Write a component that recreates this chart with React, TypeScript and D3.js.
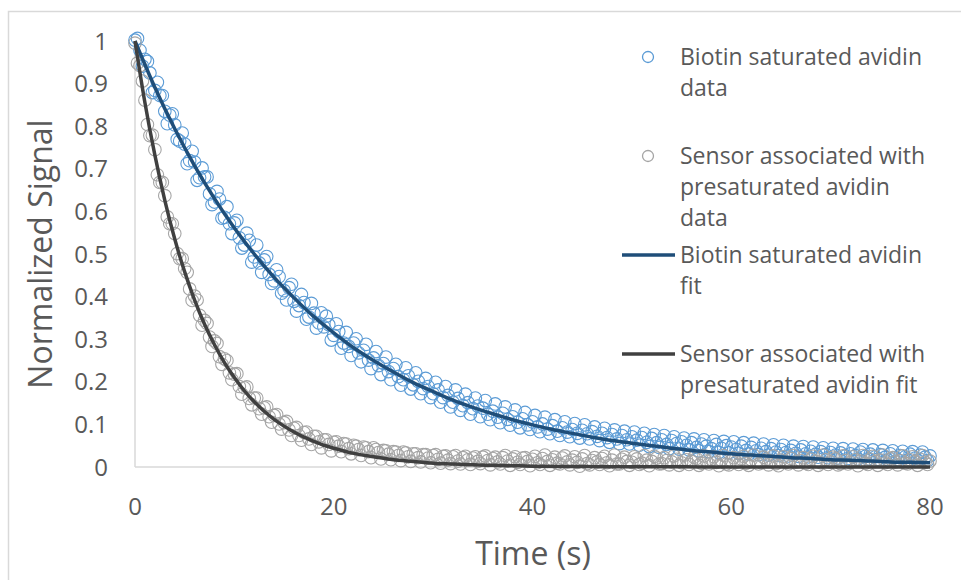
import React from "react";
import * as d3 from "d3";

// Scatter data: set A sampled at t = 0, 0.5, 1 ... 80 s ; set B at t = 0.25, 0.75 ... 79.75 s
const stepA = 0.5;
const startA = 0;
const stepB = 0.5;
const startB = 0.25;

const biotinDataA = [
  1.002, 0.978, 0.957, 0.925, 0.884, 0.872, 0.835, 0.826, 0.803, 0.765,
  0.758, 0.719, 0.716, 0.679, 0.681, 0.641, 0.622, 0.629, 0.586, 0.571,
  0.573, 0.538, 0.521, 0.532, 0.493, 0.479, 0.486, 0.452, 0.437, 0.447,
  0.414, 0.421, 0.389, 0.379, 0.386, 0.352, 0.361, 0.338, 0.329, 0.334,
  0.309, 0.318, 0.291, 0.283, 0.291, 0.268, 0.274, 0.251, 0.256, 0.238,
  0.243, 0.224, 0.231, 0.212, 0.205, 0.214, 0.193, 0.201, 0.184, 0.189,
  0.172, 0.181, 0.163, 0.168, 0.152, 0.161, 0.144, 0.151, 0.137, 0.143,
  0.138, 0.124, 0.131, 0.117, 0.126, 0.112, 0.118, 0.105, 0.113, 0.099,
  0.106, 0.094, 0.101, 0.089, 0.097, 0.084, 0.092, 0.082, 0.088, 0.079,
  0.086, 0.078, 0.083, 0.072, 0.079, 0.069, 0.076, 0.066, 0.074, 0.064,
  0.071, 0.063, 0.069, 0.058, 0.067, 0.057, 0.064, 0.053, 0.062, 0.055,
  0.059, 0.051, 0.057, 0.046, 0.054, 0.049, 0.043, 0.053, 0.044, 0.050,
  0.047, 0.041, 0.049, 0.039, 0.046, 0.038, 0.044, 0.036, 0.043, 0.035,
  0.041, 0.034, 0.039, 0.032, 0.040, 0.031, 0.037, 0.030, 0.036, 0.029,
  0.034, 0.028, 0.033, 0.026, 0.031, 0.027, 0.035, 0.025, 0.030, 0.024,
  0.029, 0.023, 0.031, 0.022, 0.027, 0.024, 0.030, 0.021, 0.028, 0.023,
  0.026,
];
const biotinDataB = [
  1.006, 0.941, 0.952, 0.879, 0.903, 0.872, 0.806, 0.829, 0.769, 0.784,
  0.712, 0.741, 0.673, 0.702, 0.681, 0.616, 0.647, 0.584, 0.611, 0.548,
  0.579, 0.514, 0.549, 0.481, 0.521, 0.457, 0.494, 0.431, 0.463, 0.408,
  0.392, 0.429, 0.366, 0.405, 0.347, 0.384, 0.326, 0.362, 0.354, 0.298,
  0.336, 0.279, 0.316, 0.262, 0.301, 0.247, 0.288, 0.231, 0.271, 0.217,
  0.258, 0.205, 0.241, 0.192, 0.233, 0.183, 0.221, 0.172, 0.208, 0.163,
  0.199, 0.152, 0.189, 0.141, 0.181, 0.133, 0.171, 0.124, 0.162, 0.118,
  0.156, 0.111, 0.148, 0.104, 0.141, 0.098, 0.134, 0.092, 0.128, 0.088,
  0.121, 0.083, 0.117, 0.078, 0.111, 0.074, 0.106, 0.071, 0.102, 0.068,
  0.099, 0.066, 0.094, 0.062, 0.091, 0.058, 0.087, 0.055, 0.084, 0.054,
  0.082, 0.051, 0.079, 0.048, 0.076, 0.046, 0.074, 0.043, 0.071, 0.042,
  0.068, 0.040, 0.066, 0.038, 0.064, 0.036, 0.062, 0.034, 0.060, 0.033,
  0.059, 0.032, 0.057, 0.030, 0.056, 0.029, 0.054, 0.028, 0.052, 0.027,
  0.051, 0.026, 0.049, 0.025, 0.048, 0.024, 0.047, 0.023, 0.045, 0.022,
  0.044, 0.021, 0.043, 0.020, 0.042, 0.019, 0.041, 0.019, 0.040, 0.018,
  0.039, 0.017, 0.038, 0.017, 0.037, 0.016, 0.036, 0.016, 0.035, 0.015,
];

const sensorDataA = [
  0.995, 0.942, 0.861, 0.778, 0.745, 0.668, 0.637, 0.571, 0.548, 0.489,
  0.466, 0.418, 0.401, 0.356, 0.344, 0.305, 0.296, 0.259, 0.254, 0.221,
  0.218, 0.189, 0.186, 0.161, 0.162, 0.137, 0.139, 0.118, 0.121, 0.101,
  0.104, 0.087, 0.091, 0.074, 0.081, 0.066, 0.072, 0.059, 0.064, 0.053,
  0.058, 0.049, 0.055, 0.043, 0.051, 0.041, 0.047, 0.036, 0.045, 0.034,
  0.039, 0.030, 0.036, 0.027, 0.035, 0.024, 0.031, 0.022, 0.029, 0.021,
  0.027, 0.018, 0.025, 0.016, 0.024, 0.014, 0.022, 0.017, 0.021, 0.013,
  0.023, 0.015, 0.020, 0.012, 0.022, 0.014, 0.019, 0.011, 0.021, 0.013,
  0.018, 0.010, 0.020, 0.013, 0.017, 0.009, 0.021, 0.012, 0.016, 0.011,
  0.019, 0.008, 0.015, 0.012, 0.020, 0.010, 0.016, 0.007, 0.018, 0.013,
  0.011, 0.019, 0.009, 0.016, 0.013, 0.021, 0.008, 0.015, 0.012, 0.018,
  0.010, 0.017, 0.013, 0.020, 0.009, 0.014, 0.018, 0.011, 0.016, 0.007,
  0.015, 0.012, 0.019, 0.009, 0.017, 0.013, 0.010, 0.018, 0.014, 0.008,
  0.016, 0.011, 0.020, 0.012, 0.015, 0.009, 0.018, 0.013, 0.010, 0.017,
  0.012, 0.019, 0.008, 0.015, 0.011, 0.017, 0.014, 0.009, 0.018, 0.013,
  0.016, 0.010, 0.019, 0.012, 0.015, 0.009, 0.017, 0.013, 0.018, 0.011,
  0.014,
];
const sensorDataB = [
  0.948, 0.906, 0.804, 0.779, 0.686, 0.668, 0.587, 0.571, 0.501, 0.489,
  0.457, 0.391, 0.392, 0.333, 0.337, 0.283, 0.290, 0.241, 0.250, 0.205,
  0.219, 0.171, 0.188, 0.146, 0.162, 0.124, 0.141, 0.105, 0.123, 0.089,
  0.107, 0.074, 0.093, 0.063, 0.082, 0.053, 0.072, 0.045, 0.064, 0.038,
  0.059, 0.036, 0.054, 0.031, 0.049, 0.027, 0.045, 0.022, 0.041, 0.019,
  0.038, 0.017, 0.035, 0.015, 0.033, 0.013, 0.031, 0.012, 0.029, 0.010,
  0.029, 0.009, 0.026, 0.008, 0.027, 0.007, 0.025, 0.006, 0.024, 0.008,
  0.026, 0.005, 0.023, 0.007, 0.027, 0.004, 0.024, 0.006, 0.022, 0.003,
  0.025, 0.006, 0.028, 0.004, 0.023, 0.007, 0.026, 0.005, 0.024, 0.002,
  0.027, 0.005, 0.022, 0.006, 0.025, 0.003, 0.028, 0.007, 0.023, 0.004,
  0.024, 0.006, 0.027, 0.003, 0.025, 0.007, 0.022, 0.005, 0.026, 0.004,
  0.028, 0.006, 0.023, 0.004, 0.026, 0.007, 0.024, 0.003, 0.027, 0.005,
  0.022, 0.006, 0.025, 0.004, 0.028, 0.007, 0.023, 0.005, 0.026, 0.003,
  0.024, 0.007, 0.027, 0.005, 0.022, 0.006, 0.025, 0.004, 0.028, 0.006,
  0.023, 0.005, 0.026, 0.007, 0.024, 0.003, 0.027, 0.006, 0.025, 0.004,
  0.028, 0.006, 0.022, 0.005, 0.026, 0.007, 0.024, 0.004, 0.027, 0.006,
];

// Fit curves
const biotinFitT = [
  0, 2, 4, 6, 8, 10, 12, 14, 16, 18, 20, 22, 24, 26, 28, 30, 32, 34, 36, 38, 40,
  42, 44, 46, 48, 50, 52, 54, 56, 58, 60, 62, 64, 66, 68, 70, 72, 74, 76, 78, 80,
];
const biotinFitV = [
  1.0, 0.891, 0.794, 0.707, 0.63, 0.561, 0.5, 0.445, 0.397, 0.353, 0.315,
  0.28, 0.25, 0.223, 0.198, 0.177, 0.157, 0.14, 0.125, 0.111, 0.099,
  0.088, 0.079, 0.07, 0.062, 0.056, 0.05, 0.044, 0.039, 0.035, 0.031,
  0.028, 0.025, 0.022, 0.02, 0.017, 0.016, 0.014, 0.012, 0.011, 0.01,
];

const sensorFitT = [
  0, 1, 2, 3, 4, 5, 6, 7, 8, 9, 10, 11, 12, 13, 14, 15, 16, 17, 18, 19, 20,
  22, 24, 26, 28, 30, 32, 34, 36, 38, 40, 45, 50, 55, 60, 65, 70, 75, 80,
];
const sensorFitV = [
  1.0, 0.855, 0.732, 0.626, 0.535, 0.458, 0.392, 0.335, 0.287, 0.245, 0.21,
  0.179, 0.153, 0.131, 0.112, 0.096, 0.082, 0.07, 0.06, 0.051, 0.044,
  0.032, 0.024, 0.017, 0.013, 0.009, 0.007, 0.005, 0.004, 0.003, 0.002,
  0.001, 0.0005, 0.0003, 0.0002, 0.0001, 0.0001, 0.0, 0.0,
];

const xTicks = [0, 20, 40, 60, 80];
const yTicks = [0, 0.1, 0.2, 0.3, 0.4, 0.5, 0.6, 0.7, 0.8, 0.9, 1];

const legendItems = [
  { kind: "marker", color: "#5B9BD5", lines: ["Biotin saturated avidin", "data"] },
  { kind: "marker", color: "#A5A5A5", lines: ["Sensor associated with", "presaturated avidin", "data"] },
  { kind: "line", color: "#1F4E79", lines: ["Biotin saturated avidin", "fit"] },
  { kind: "line", color: "#404040", lines: ["Sensor associated with", "presaturated avidin fit"] },
];

const W = 961;
const H = 580;
const FONT = "'Open Sans', 'Noto Sans', sans-serif";
const TEXT = "#595959";

function toPts(a: number[], start: number, step: number): [number, number][] {
  return a.map((v, i) => [start + i * step, v] as [number, number]);
}

export default function App() {
  const x = d3.scaleLinear().domain([0, 80]).range([135, 930]);
  const y = d3.scaleLinear().domain([0, 1]).range([467, 41]);

  const line = d3
    .line<[number, number]>()
    .x((d) => x(d[0]))
    .y((d) => y(d[1]))
    .curve(d3.curveMonotoneX);

  const biotinPts = toPts(biotinDataA, startA, stepA).concat(toPts(biotinDataB, startB, stepB));
  const sensorPts = toPts(sensorDataA, startA, stepA).concat(toPts(sensorDataB, startB, stepB));
  const biotinFit = biotinFitT.map((t, i) => [t, biotinFitV[i]] as [number, number]);
  const sensorFit = sensorFitT.map((t, i) => [t, sensorFitV[i]] as [number, number]);

  const legendY = [57, 156, 255, 354];
  const lineH = 31;

  return (
    <svg
      width={W}
      height={H}
      style={{ position: "absolute", left: 0, top: 0, background: "#fff" }}
      fontFamily={FONT}
    >
      <rect x={8.5} y={11.5} width={W + 10} height={H + 10} fill="#fff" stroke="#D9D9D9" strokeWidth={1.5} />

      {/* axes */}
      <line x1={x(0)} x2={x(0)} y1={y(1)} y2={y(0)} stroke="#D9D9D9" strokeWidth={1.5} />
      <line x1={x(0)} x2={x(80)} y1={y(0)} y2={y(0)} stroke="#D9D9D9" strokeWidth={1.5} />

      {yTicks.map((t) => (
        <text key={t} x={108} y={y(t)} dy="0.36em" textAnchor="end" fontSize={24} fill={TEXT}>
          {String(t)}
        </text>
      ))}
      {xTicks.map((t) => (
        <text key={t} x={x(t)} y={506} dy="0.36em" textAnchor="middle" fontSize={24} fill={TEXT}>
          {String(t)}
        </text>
      ))}

      <text x={533} y={553} dy="0.36em" textAnchor="middle" fontSize={32} fill={TEXT}>
        Time (s)
      </text>
      <text
        transform={`translate(40,254) rotate(-90)`}
        dy="0.36em"
        textAnchor="middle"
        fontSize={32}
        fill={TEXT}
      >
        Normalized Signal
      </text>

      {/* data */}
      <g fill="none" stroke="#5B9BD5" strokeWidth={1.1}>
        {biotinPts.map((d, i) => (
          <circle key={i} cx={x(d[0])} cy={y(d[1])} r={6.3} />
        ))}
      </g>
      <g fill="none" stroke="#A5A5A5" strokeWidth={1.1}>
        {sensorPts.map((d, i) => (
          <circle key={i} cx={x(d[0])} cy={y(d[1])} r={6.3} />
        ))}
      </g>
      <path d={line(biotinFit) || ""} fill="none" stroke="#1F4E79" strokeWidth={3.5} />
      <path d={line(sensorFit) || ""} fill="none" stroke="#404040" strokeWidth={3.5} />

      {/* legend */}
      {legendItems.map((it, k) => (
        <g key={k}>
          {it.kind === "marker" ? (
            <circle cx={648} cy={legendY[k]} r={5.5} fill="none" stroke={it.color} strokeWidth={1.3} />
          ) : (
            <line x1={622} x2={675} y1={legendY[k]} y2={legendY[k]} stroke={it.color} strokeWidth={3.5} />
          )}
          {it.lines.map((s, j) => (
            <text key={j} x={680} y={legendY[k] + j * lineH} dy="0.36em" fontSize={23} fill={TEXT}>
              {s}
            </text>
          ))}
        </g>
      ))}
    </svg>
  );
}
